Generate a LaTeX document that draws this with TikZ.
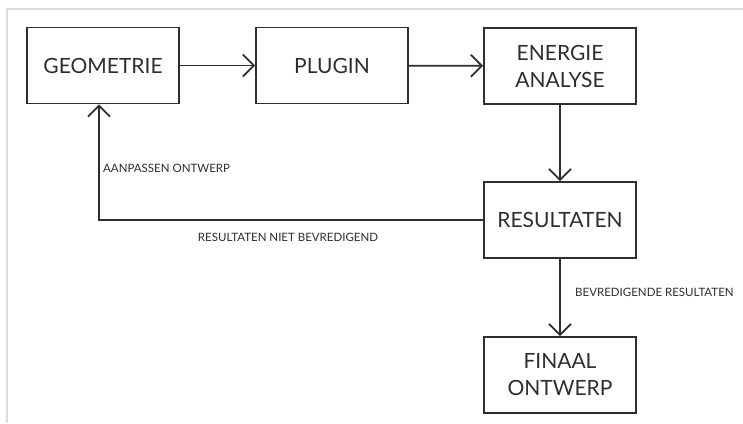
\documentclass[tikz,border=0pt]{standalone}
\usepackage{fontspec}
\setmainfont{Lato}
\usetikzlibrary{arrows.meta}
\definecolor{ink}{HTML}{2E2E2E}
\definecolor{frame}{HTML}{DDDDDD}
\tikzset{
  box/.style={draw=ink, line width=1.8pt, minimum width=152pt, minimum height=76pt,
    inner sep=0pt, align=center, text=ink, font=\fontsize{21}{27}\selectfont},
  conn/.style={draw=ink, line width=1.8pt, -{Straight Barb[length=11pt,width=22pt,line width=1.8pt]}},
  lbl/.style={text=ink, inner sep=0pt, font=\fontsize{11.5}{13}\selectfont}
}
\begin{document}
\begin{tikzpicture}[x=1pt,y=-1pt]
\useasboundingbox (0,0) rectangle (743,423);
\fill[white] (0,0) rectangle (743,423);
\draw[frame, line width=1.6pt] (7,423) -- (7,9) -- (743,9);
\node[box] (geo) at (103,65.5) {GEOMETRIE};
\node[box] (plug) at (332,65.5) {PLUGIN};
\node[box] (ener) at (560,66) {ENERGIE\\ANALYSE};
\node[box] (res) at (560,220) {RESULTATEN};
\node[box] (fin) at (560,375) {FINAAL\\ONTWERP};
\coordinate (fb) at (99,220);
\draw[conn] (geo) -- (plug);
\draw[conn] (plug) -- (ener);
\draw[conn] (ener) -- (res);
\draw[conn] (res) -- (fin);
\draw[conn] (res.west) -- (fb) -- (fb |- geo.south);
\node[lbl, anchor=west] (l1) at (103,168) {AANPASSEN ONTWERP};
\node[lbl] (l2) at (288,237.5) {RESULTATEN NIET BEVREDIGEND};
\node[lbl, anchor=west] (l3) at (575,292) {BEVREDIGENDE RESULTATEN};
\end{tikzpicture}
\end{document}
